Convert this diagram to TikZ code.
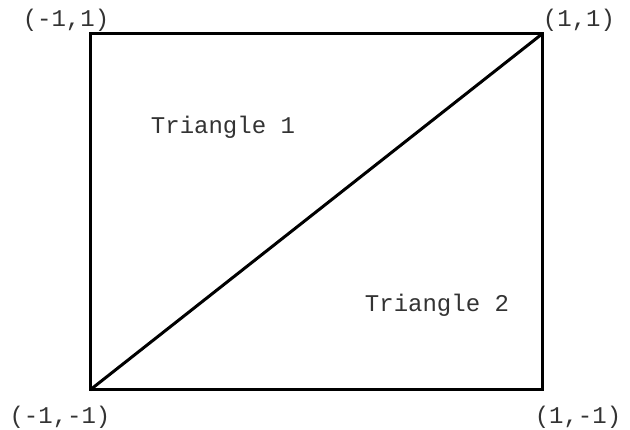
\documentclass[tikz,border=0pt]{standalone}
\usepackage{fontspec}
\setmonofont{Liberation Mono}
\usetikzlibrary{positioning}

\begin{document}
\begin{tikzpicture}[
    x=1pt,y=-1pt,
    corner/.style={font=\ttfamily\fontsize{24}{28}\selectfont,text=black!80,inner sep=0pt},
    label/.style={font=\ttfamily\fontsize{24}{28}\selectfont,text=black!80,inner sep=0pt},
    edge/.style={line width=3pt,line join=miter}
]
\useasboundingbox (0,0) rectangle (630,430);

\coordinate (tl) at (90,34);
\coordinate (tr) at (542,34);
\coordinate (bl) at (90,390);
\coordinate (br) at (542,390);

\node[corner] (tllabel) at (66,20) {(-1,1)};
\node[corner] (trlabel) at (579,20) {(1,1)};
\node[corner] (bllabel) at (60,417) {(-1,-1)};
\node[corner] (brlabel) at (578,417) {(1,-1)};

\node[label] (tri1) at (223,127) {Triangle 1};
\node[label] (tri2) at (437,305) {Triangle 2};

\draw[edge] (tl) -- (tr) -- (br) -- (bl) -- cycle;
\draw[edge] (bl) -- (tr);

\end{tikzpicture}
\end{document}
